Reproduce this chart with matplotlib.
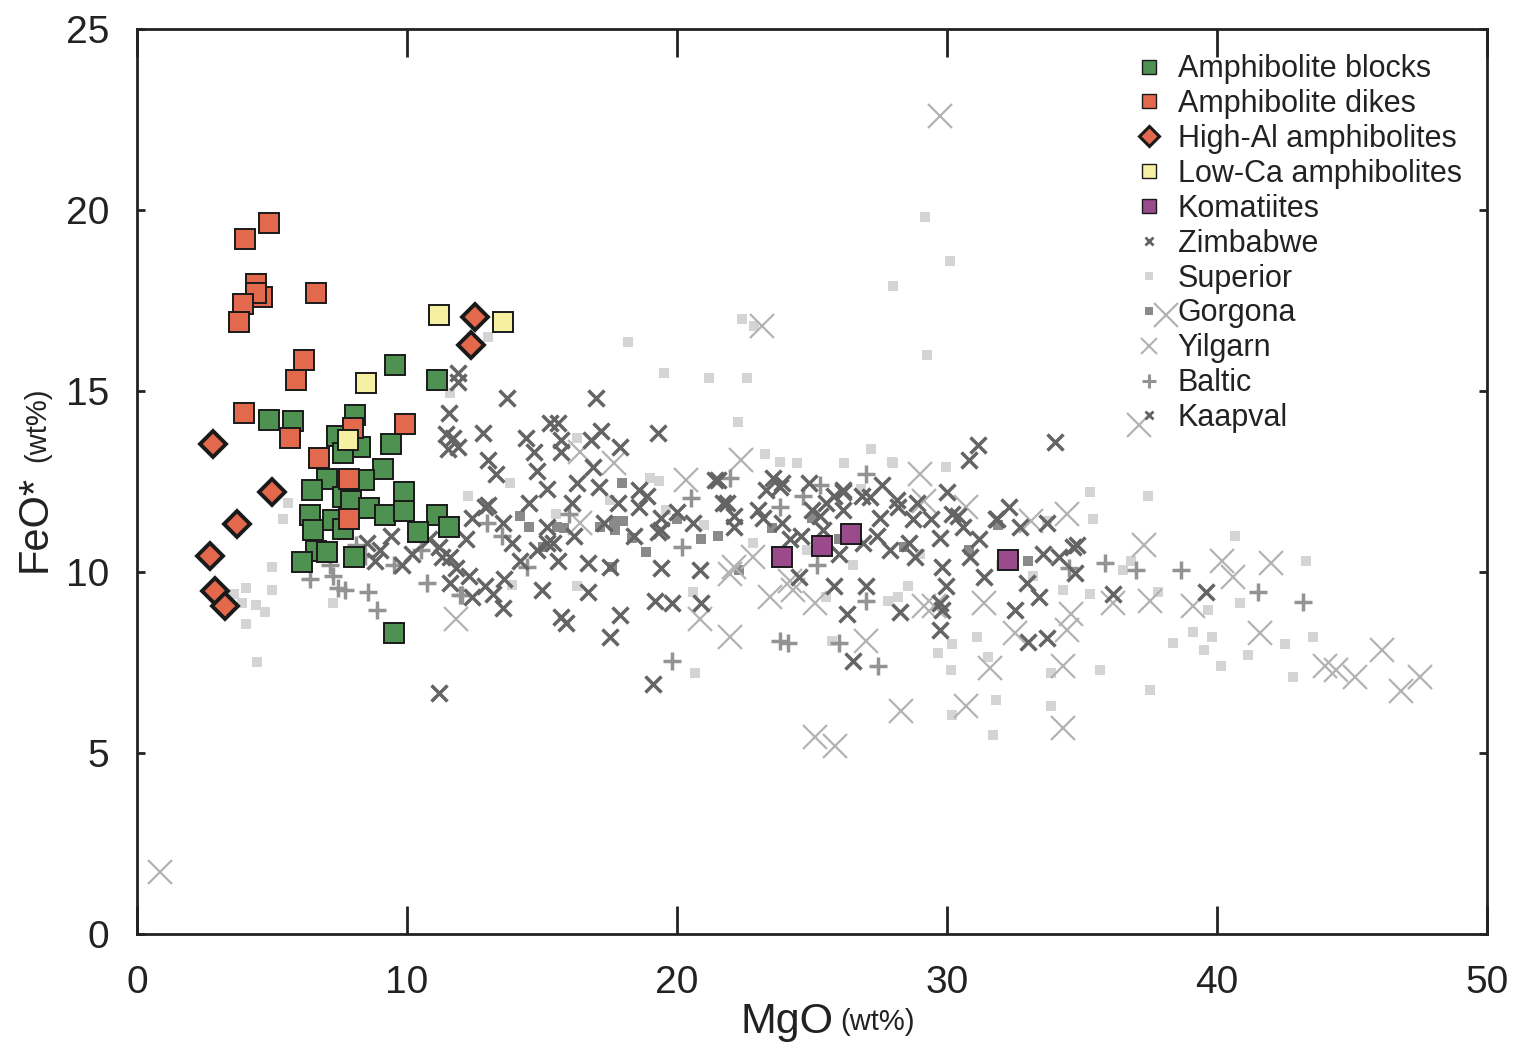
import numpy as np
import matplotlib
matplotlib.use("Agg")
import matplotlib.pyplot as plt
from matplotlib.lines import Line2D

plt.rcParams['font.family'] = ['Liberation Sans', 'DejaVu Sans']

# ---- data: (MgO wt%, FeO* wt%) ----
blocks = np.array([[9.56, 15.72], [11.1, 15.3], [4.89, 14.2], [5.78, 14.17], [8.07, 14.34],
                   [7.4, 13.76], [8.26, 13.45], [9.41, 13.54], [7.63, 13.29], [9.1, 12.84],
                   [7.04, 12.57], [8.4, 12.54], [6.48, 12.27], [9.89, 12.21], [7.63, 12.07],
                   [7.93, 11.96], [8.6, 11.77], [9.19, 11.57], [9.89, 11.68], [11.1, 11.57],
                   [11.56, 11.24], [6.41, 11.57], [6.52, 11.16], [7.26, 11.43], [10.4, 11.1],
                   [6.63, 10.58], [7.04, 10.55], [6.11, 10.28], [8.04, 10.41], [7.63, 11.19],
                   [9.52, 8.3]])
dikes = np.array([[4.89, 19.64], [4.0, 19.2], [4.4, 17.95], [4.63, 17.6], [4.4, 17.7],
                  [3.93, 17.4], [3.78, 16.9], [6.63, 17.7], [6.19, 15.86], [5.89, 15.3],
                  [3.96, 14.4], [5.67, 13.7], [8.0, 13.97], [9.93, 14.08], [6.74, 13.15],
                  [7.85, 12.57], [7.85, 11.46]])
high_al = np.array([[12.52, 17.05], [12.37, 16.27], [2.81, 13.54], [3.7, 11.33], [5.0, 12.21],
                    [2.7, 10.44], [2.89, 9.48], [3.26, 9.06]])
low_ca = np.array([[11.19, 17.1], [13.56, 16.9], [8.48, 15.22], [7.81, 13.65]])
komatiites = np.array([[23.9, 10.41], [25.37, 10.72], [26.44, 11.05], [32.26, 10.33]])

zimbabwe = np.array([
    [11.9, 15.5], [11.9, 15.25], [13.7, 14.8], [17.0, 14.8], [11.55, 14.4], [11.45, 13.8],
    [11.7, 13.7], [11.9, 13.45], [11.5, 13.4], [12.8, 13.85], [14.4, 13.7], [15.3, 14.1],
    [15.6, 14.1], [15.7, 13.65], [15.7, 13.3], [14.7, 13.3], [16.8, 13.65], [17.2, 13.9],
    [19.3, 13.85], [17.9, 13.45], [13.0, 13.1], [13.3, 12.7], [14.8, 12.8], [16.9, 12.9],
    [15.2, 12.3], [16.3, 12.45], [17.1, 12.35], [18.6, 12.25], [18.9, 12.1], [13.0, 11.85],
    [14.5, 11.9], [16.1, 11.9], [17.8, 11.9], [19.4, 11.5], [12.4, 11.5], [13.55, 11.35],
    [15.2, 11.25], [17.3, 11.35], [19.4, 11.15], [12.2, 10.9], [13.9, 10.8], [15.4, 10.8],
    [18.4, 11.0], [11.2, 10.7], [12.9, 11.8], [11.6, 10.4], [11.6, 9.7], [12.4, 9.3],
    [13.55, 9.0], [15.0, 9.5], [16.7, 10.25], [17.5, 10.15], [19.4, 10.1], [20.85, 10.05],
    [16.7, 9.45], [15.7, 8.75], [15.9, 8.6], [17.9, 8.8], [17.5, 8.2], [19.2, 9.2],
    [19.8, 9.15], [20.9, 9.15], [19.1, 6.9], [11.2, 6.65], [18.6, 11.8], [19.3, 11.1],
    [20.0, 11.65], [20.6, 11.35], [8.5, 10.8], [9.0, 10.6], [9.4, 11.0], [8.8, 10.3],
    [9.8, 10.2], [10.2, 10.5], [10.8, 10.9], [11.3, 10.4], [11.8, 10.1], [12.3, 9.9],
    [12.9, 9.6], [13.2, 9.4], [13.6, 9.8], [14.2, 10.3], [14.8, 10.6], [15.2, 10.8],
    [15.6, 10.3], [16.2, 11.0]])
kaapval = np.array([
    [21.4, 12.55], [23.55, 12.6], [23.3, 12.25], [23.9, 12.45], [26.15, 12.25], [24.5, 9.85],
    [25.8, 9.6], [26.3, 8.85], [22.1, 11.55], [21.85, 11.9], [23.0, 11.7], [23.9, 11.35],
    [25.3, 11.55], [25.4, 11.15], [26.15, 11.7], [24.9, 12.45], [25.8, 12.1], [31.15, 13.5],
    [30.8, 13.1], [34.0, 13.6], [21.5, 12.55], [23.8, 12.35], [26.15, 12.2], [26.85, 12.1],
    [28.15, 12.0], [21.7, 11.9], [23.2, 11.5], [25.0, 11.7], [27.5, 11.5], [28.75, 11.45],
    [30.2, 11.6], [30.6, 11.25], [31.85, 11.45], [32.7, 11.25], [33.7, 11.35], [29.75, 10.95],
    [31.2, 10.9], [28.6, 10.8], [34.65, 10.7], [22.1, 11.25], [34.8, 10.75], [33.0, 8.07],
    [33.7, 8.18], [29.75, 8.4], [29.8, 8.95], [29.75, 9.15], [28.25, 8.9], [39.6, 9.45],
    [36.15, 9.4], [32.5, 8.95], [33.4, 9.3], [27.0, 9.6], [26.5, 7.55], [27.15, 12.07],
    [28.2, 11.8], [29.4, 11.45], [30.4, 11.55], [31.8, 11.45], [33.55, 10.5], [34.15, 10.4],
    [30.85, 10.4], [29.8, 10.15], [28.8, 10.4], [27.9, 10.6], [31.35, 9.85], [32.95, 9.7],
    [34.75, 9.97], [29.95, 9.6], [24.2, 10.9], [26.9, 10.8], [27.4, 11.0], [24.6, 11.0],
    [28.9, 11.9], [30.0, 12.2], [32.3, 11.8], [27.6, 12.4], [26.0, 10.5], [25.5, 11.9]])
superior = np.array([
    [29.2, 19.8], [30.1, 18.6], [28.0, 17.9], [29.25, 16.0], [22.4, 17.0], [22.85, 16.8],
    [18.2, 16.35], [19.5, 15.5], [21.2, 15.35], [22.6, 15.35], [22.25, 14.15], [13.0, 16.5],
    [11.6, 14.95], [16.3, 13.7], [13.8, 12.45], [12.25, 12.1], [19.6, 11.7], [19.35, 12.5],
    [5.6, 11.9], [5.4, 11.45], [27.2, 13.4], [23.25, 13.25], [23.8, 13.05], [24.45, 13.0],
    [26.2, 13.0], [28.0, 13.0], [29.95, 12.9], [27.95, 13.05], [33.7, 11.4], [35.3, 12.2],
    [37.45, 12.1], [35.4, 11.45], [40.65, 11.0], [43.3, 10.3], [36.5, 10.05], [37.8, 9.45],
    [35.3, 9.4], [40.85, 9.15], [39.65, 8.95], [39.1, 8.35], [39.8, 8.2], [38.35, 8.05],
    [39.5, 7.85], [42.5, 8.0], [41.15, 7.7], [40.15, 7.4], [35.65, 7.3], [43.55, 8.2],
    [42.8, 7.1], [37.5, 6.75], [33.85, 7.2], [33.85, 6.3], [31.8, 6.45], [31.7, 5.5],
    [30.2, 6.05], [30.15, 7.3], [29.65, 7.75], [31.5, 7.65], [31.1, 8.2], [30.2, 8.0],
    [34.3, 9.5], [25.75, 8.1], [27.8, 9.2], [28.2, 9.3], [28.55, 9.6], [20.6, 9.45],
    [20.65, 7.2], [13.9, 9.65], [16.3, 9.6], [7.25, 9.15], [5.0, 10.15], [4.05, 9.55],
    [5.0, 9.5], [3.6, 9.4], [3.9, 9.15], [4.4, 9.1], [4.75, 8.9], [4.05, 8.55], [4.45, 7.5],
    [15.5, 11.6], [17.5, 12.0], [21.0, 11.3], [22.8, 10.8], [24.8, 10.6], [26.5, 10.2],
    [29.0, 10.5], [32.0, 10.2], [33.2, 9.9], [36.8, 10.3], [26.8, 12.3], [19.0, 12.6],
    [25.5, 9.3]])
gorgona = np.array([
    [17.95, 12.45], [15.55, 11.25], [15.8, 11.2], [17.15, 11.25], [17.7, 11.15], [18.0, 11.4],
    [18.35, 10.95], [18.85, 10.55], [20.0, 11.45], [20.9, 10.9], [22.3, 10.05], [14.5, 11.25],
    [15.05, 10.7], [14.2, 11.55], [17.6, 10.15], [17.65, 11.4], [25.0, 11.5], [26.0, 10.9],
    [28.4, 10.7], [30.8, 10.6], [31.9, 11.3], [33.0, 10.3], [23.5, 11.2], [21.5, 11.0]])
yilgarn = np.array([
    [29.75, 22.6], [23.15, 16.8], [38.1, 17.1], [0.85, 1.7], [37.1, 14.05], [29.0, 12.7],
    [29.15, 11.95], [30.7, 11.8], [33.1, 11.4], [37.3, 10.75], [40.2, 10.3], [42.0, 10.25],
    [40.6, 9.85], [36.15, 9.15], [37.5, 9.2], [39.1, 9.05], [34.6, 8.85], [41.6, 8.3],
    [34.45, 8.4], [32.5, 8.3], [27.0, 8.1], [31.35, 9.15], [29.15, 9.05], [31.6, 7.35],
    [34.3, 7.4], [30.7, 6.3], [28.3, 6.15], [34.3, 5.7], [44.0, 7.4], [44.4, 7.3],
    [45.1, 7.1], [46.1, 7.85], [46.8, 6.7], [47.5, 7.1], [34.45, 11.6], [11.8, 8.7],
    [16.4, 13.3], [17.65, 13.0], [16.4, 11.35], [20.35, 12.55], [22.35, 13.1], [23.45, 9.3],
    [25.1, 9.15], [20.85, 8.7], [21.95, 8.2], [24.3, 9.5], [22.8, 10.4], [22.1, 10.15],
    [25.1, 5.45], [25.85, 5.2], [29.5, 9.05], [21.95, 9.95], [24.2, 9.75]])
baltic = np.array([
    [7.45, 9.55], [8.55, 9.45], [8.9, 8.95], [10.75, 9.7], [12.05, 9.35], [7.25, 9.9],
    [14.45, 10.15], [19.8, 7.55], [24.1, 8.05], [23.8, 8.1], [26.0, 8.05], [27.45, 7.4],
    [27.0, 9.2], [25.2, 10.2], [11.95, 9.35], [21.95, 12.6], [20.5, 12.05], [25.3, 12.4],
    [24.65, 12.1], [23.8, 11.8], [20.2, 10.7], [12.95, 11.35], [27.0, 12.7], [6.4, 9.8],
    [7.15, 10.2], [7.7, 9.5], [8.1, 10.75], [8.45, 10.45], [35.85, 10.25], [37.0, 10.05],
    [38.65, 10.05], [41.5, 9.45], [43.2, 9.17], [34.5, 10.1], [9.5, 10.2], [10.5, 10.6],
    [13.5, 11.0], [16.0, 11.6]])

x_ticks = [0, 10, 20, 30, 40, 50]
y_ticks = [0, 5, 10, 15, 20, 25]

green = '#4f9150'
orange = '#e2694c'
yellow = '#f6f1a2'
purple = '#9b4a8c'
ink = '#222222'

fig = plt.figure(figsize=(15.19, 10.5), dpi=100)
ax = fig.add_axes([0.0902, 0.1105, 0.8888, 0.862])

# background data sets
ax.plot(superior[:, 0], superior[:, 1], 's', ms=7, color='#d4d4d4', mew=0, zorder=1)
ax.plot(gorgona[:, 0], gorgona[:, 1], 's', ms=7, color='#8a8a8a', mew=0, zorder=2)
ax.plot(yilgarn[:, 0], yilgarn[:, 1], 'x', ms=17, color='#b3b3b3', mew=1.6, zorder=3)
ax.plot(baltic[:, 0], baltic[:, 1], '+', ms=13, color='#939393', mew=2.5, zorder=4)
ax.plot(zimbabwe[:, 0], zimbabwe[:, 1], 'x', ms=11, color='#646464', mew=2.5, zorder=5)
ax.plot(kaapval[:, 0], kaapval[:, 1], 'x', ms=11, color='#646464', mew=2.5, zorder=5)

# amphibolites and komatiites
ax.plot(blocks[:, 0], blocks[:, 1], 's', ms=14, mfc=green, mec='#1a1a1a', mew=1.4, zorder=6)
ax.plot(dikes[:, 0], dikes[:, 1], 's', ms=14, mfc=orange, mec='#1a1a1a', mew=1.4, zorder=7)
ax.plot(high_al[:, 0], high_al[:, 1], 'D', ms=13, mfc=orange, mec='#1a1a1a', mew=2.8, zorder=8)
ax.plot(low_ca[:, 0], low_ca[:, 1], 's', ms=14, mfc=yellow, mec='#1a1a1a', mew=1.4, zorder=8)
ax.plot(komatiites[:, 0], komatiites[:, 1], 's', ms=14, mfc=purple, mec='#1a1a1a', mew=1.4, zorder=8)

ax.set_xlim(0, 50)
ax.set_ylim(0, 25)
ax.set_xticks(x_ticks)
ax.set_yticks(y_ticks)
ax.tick_params(axis='x', direction='in', length=20, width=2, top=True, pad=22,
               labelsize=28, colors=ink)
ax.tick_params(axis='y', direction='in', length=6, width=2, right=True, pad=20,
               labelsize=28, colors=ink)
for s in ax.spines.values():
    s.set_linewidth(2)
    s.set_color(ink)

# axis labels: large name, small unit
ax.text(0.5156, -0.097, 'MgO', transform=ax.transAxes, ha='right', va='center',
        fontsize=31, color=ink)
ax.text(0.5207, -0.097, '(wt%)', transform=ax.transAxes, ha='left', va='center',
        fontsize=21, color=ink)
ax.text(-0.0756, 0.40, 'FeO*', transform=ax.transAxes, ha='center', va='bottom',
        rotation=90, fontsize=30, color=ink)
ax.text(-0.0740, 0.522, '(wt%)', transform=ax.transAxes, ha='center', va='bottom',
        rotation=90, fontsize=21, color=ink)

handles = [
    Line2D([], [], ls='none', marker='s', ms=10, mfc=green, mec='#1a1a1a', mew=1),
    Line2D([], [], ls='none', marker='s', ms=10, mfc=orange, mec='#1a1a1a', mew=1),
    Line2D([], [], ls='none', marker='D', ms=10, mfc=orange, mec='#1a1a1a', mew=2.2),
    Line2D([], [], ls='none', marker='s', ms=10, mfc=yellow, mec='#1a1a1a', mew=1),
    Line2D([], [], ls='none', marker='s', ms=10, mfc=purple, mec='#1a1a1a', mew=1),
    Line2D([], [], ls='none', marker='x', ms=6, color='#646464', mew=2),
    Line2D([], [], ls='none', marker='s', ms=6, color='#d4d4d4', mew=0),
    Line2D([], [], ls='none', marker='s', ms=6, color='#8a8a8a', mew=0),
    Line2D([], [], ls='none', marker='x', ms=12, color='#b3b3b3', mew=1.5),
    Line2D([], [], ls='none', marker='+', ms=10, color='#939393', mew=2.2),
    Line2D([], [], ls='none', marker='x', ms=6, color='#646464', mew=2),
]
labels = ['Amphibolite blocks', 'Amphibolite dikes', 'High-Al amphibolites',
          'Low-Ca amphibolites', 'Komatiites', 'Zimbabwe', 'Superior', 'Gorgona',
          'Yilgarn', 'Baltic', 'Kaapval']
leg = ax.legend(handles, labels, loc='upper left', bbox_to_anchor=(0.738, 0.972),
                frameon=False, fontsize=22, handlelength=1.0, handletextpad=0.45,
                labelspacing=0.16, borderpad=0, borderaxespad=0)
for t in leg.get_texts():
    t.set_color(ink)
leg.set_zorder(10)

fig.savefig('out.png', dpi=100)
